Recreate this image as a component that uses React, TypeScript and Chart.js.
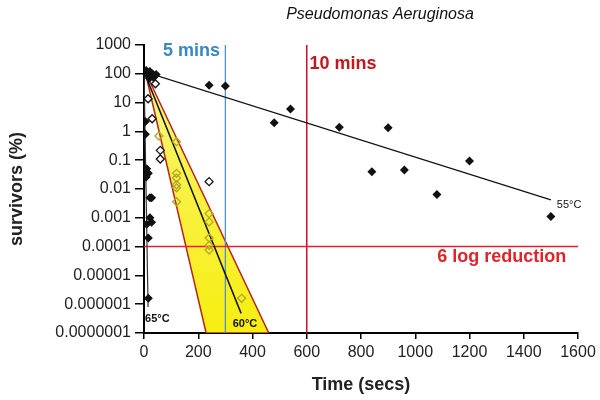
import React, { useEffect, useRef } from "react";
import { Chart, registerables } from "chart.js";

Chart.register(...registerables);

// ---- data ----
const yTickValues = [1e-7, 1e-6, 1e-5, 1e-4, 1e-3, 1e-2, 1e-1, 1, 10, 100, 1000];
const yTickLabels = ["0.0000001", "0.000001", "0.00001", "0.0001", "0.001", "0.01", "0.1", "1", "10", "100", "1000"];
const xTickLabels = ["0", "200", "400", "600", "800", "1000", "1200", "1400", "1600"];

// starting cluster (~100%)
const tStart = [0, 8, 15, 22, 30, 38, 45, 20, 35];
const vStart = [100, 130, 90, 120, 100, 85, 95, 70, 75];

// 55 C survivors
const t55 = [240, 300, 480, 540, 720, 840, 900, 960, 1080, 1200, 1500];
const v55 = [40, 38, 2, 6, 1.4, 0.04, 1.35, 0.046, 0.0065, 0.093, 0.0011];

// 65 C survivors
const t65 = [5, 5, 10, 16, 8, 22, 28, 22, 10, 28, 16, 16];
const v65 = [2.2, 0.8, 0.05, 0.035, 0.026, 0.005, 0.005, 0.001, 0.0006, 0.0007, 0.0002, 0.0000016];

// 60 C survivors (open diamonds outside band / inside band)
const t60out = [42, 15, 30, 60, 60, 240];
const v60out = [45, 13.6, 2.75, 0.22, 0.11, 0.018];
const t60in = [55, 120, 120, 120, 120, 120, 120, 240, 240, 240, 240, 240, 360];
const v60in = [0.69, 0.44, 0.035, 0.024, 0.014, 0.011, 0.0036, 0.0014, 0.00072, 0.0002, 0.00011, 0.000076, 0.0000016];

// fitted lines
const fit55T = [0, 1500];
const fit55V = [120, 0.0042];
const fit60T = [0, 358];
const fit60V = [120, 0.00000048];
const fit65T = [0, 15];
const fit65V = [120, 0.0000008];

// 60 C confidence band
const bandT = [4, 229, 460, 4];
const bandV = [120, 1e-7, 1e-7, 120];

// reference lines
const fiveMins = 300;
const tenMins = 600;
const sixLog = 0.0001;
const yMin = 1e-7;
const yMax = 1000;
const xMin = 0;
const xMax = 1600;

// annotation texts (anchored in data units)
const annTexts = ["5 mins", "10 mins", "6 log reduction", "65°C", "60°C", "55°C"];
const annT = [70, 610, 1081, 4, 327, 1522];
const annV = [620, 219, 0.000044, 0.00000031, 0.0000002, 0.0028];

const FONT = "'Liberation Sans', Arial, Helvetica, sans-serif";

const pts = (t: number[], v: number[]) => t.map((x, i) => ({ x, y: v[i] }));

const annStyles = [
  { font: `bold 18px ${FONT}`, color: "#3a87c2" },
  { font: `bold 18px ${FONT}`, color: "#c4161c" },
  { font: `bold 18px ${FONT}`, color: "#e0242a" },
  { font: `bold 11px ${FONT}`, color: "#111" },
  { font: `bold 11px ${FONT}`, color: "#111" },
  { font: `11px ${FONT}`, color: "#111" },
];

const textPlugin = {
  id: "textAnnotations",
  afterDatasetsDraw(chart: any) {
    const { ctx, scales } = chart;
    const xs = scales.x;
    const ys = scales.y;
    ctx.save();
    ctx.textBaseline = "middle";
    ctx.textAlign = "left";
    annTexts.forEach((txt, i) => {
      ctx.font = annStyles[i].font;
      ctx.fillStyle = annStyles[i].color;
      ctx.fillText(txt, xs.getPixelForValue(annT[i]), ys.getPixelForValue(annV[i]));
    });
    // chart title
    ctx.font = `italic 16px ${FONT}`;
    ctx.fillStyle = "#111";
    ctx.textAlign = "center";
    ctx.fillText("Pseudomonas Aeruginosa", 380, 15);
    ctx.restore();
  },
};

export default function App() {
  const ref = useRef<HTMLCanvasElement>(null);
  useEffect(() => {
    if (!ref.current) return;
    Chart.defaults.font.family = FONT;
    const chart = new Chart(ref.current, {
      type: "scatter",
      data: {
        datasets: [
          {
            label: "band",
            data: pts(bandT, bandV),
            showLine: true,
            fill: "shape",
            borderColor: "#b8261c",
            borderWidth: 1.5,
            pointRadius: 0,
            order: 10,
            backgroundColor: (c: any) => {
              const area = c.chart.chartArea;
              if (!area) return "#f5ee2a";
              const g = c.chart.ctx.createLinearGradient(0, area.top, 0, area.bottom);
              g.addColorStop(0, "#fcf9b0");
              g.addColorStop(0.4, "#f9f250");
              g.addColorStop(1, "#f6ee10");
              return g;
            },
          },
          {
            label: "6log",
            data: [{ x: xMin, y: sixLog }, { x: xMax, y: sixLog }],
            showLine: true,
            borderColor: "#e8202a",
            borderWidth: 1.5,
            pointRadius: 0,
            order: 5,
          },
          {
            label: "5min",
            data: [{ x: fiveMins, y: yMin }, { x: fiveMins, y: yMax }],
            showLine: true,
            borderColor: "#4b93c8",
            borderWidth: 1.3,
            pointRadius: 0,
            order: 5,
          },
          {
            label: "10min",
            data: [{ x: tenMins, y: yMin }, { x: tenMins, y: yMax }],
            showLine: true,
            borderColor: "#c8102e",
            borderWidth: 1.5,
            pointRadius: 0,
            order: 5,
          },
          {
            label: "fit55",
            data: pts(fit55T, fit55V),
            showLine: true,
            borderColor: "#111",
            borderWidth: 1.2,
            pointRadius: 0,
            order: 3,
          },
          {
            label: "fit60",
            data: pts(fit60T, fit60V),
            showLine: true,
            borderColor: "#111",
            borderWidth: 1.5,
            pointRadius: 0,
            order: 3,
          },
          {
            label: "fit65",
            data: pts(fit65T, fit65V),
            showLine: true,
            borderColor: "#333",
            borderWidth: 1.2,
            pointRadius: 0,
            order: 3,
          },
          {
            label: "60 in band",
            data: pts(t60in, v60in),
            pointStyle: "rectRot",
            pointRadius: 4,
            pointBorderWidth: 1.3,
            pointBorderColor: "#b5a628",
            pointBackgroundColor: "rgba(0,0,0,0)",
            order: 2,
          },
          {
            label: "60 out",
            data: pts(t60out, v60out),
            pointStyle: "rectRot",
            pointRadius: 4,
            pointBorderWidth: 1.3,
            pointBorderColor: "#111",
            pointBackgroundColor: "#fff",
            order: 2,
          },
          {
            label: "65",
            data: pts(t65, v65),
            pointStyle: "rectRot",
            pointRadius: 4.5,
            pointBorderWidth: 0,
            pointBackgroundColor: "#111",
            order: 1,
          },
          {
            label: "55",
            data: pts(t55, v55),
            pointStyle: "rectRot",
            pointRadius: 4.5,
            pointBorderWidth: 0,
            pointBackgroundColor: "#111",
            order: 1,
          },
          {
            label: "start",
            data: pts(tStart, vStart),
            pointStyle: "rectRot",
            pointRadius: 4.5,
            pointBorderWidth: 0,
            pointBackgroundColor: "#111",
            order: 1,
          },
        ] as any,
      },
      options: {
        animation: false,
        responsive: true,
        maintainAspectRatio: false,
        layout: { padding: { top: 45, right: 22, left: 0, bottom: 0 } },
        plugins: {
          legend: { display: false },
          tooltip: { enabled: false },
          title: { display: false },
        },
        scales: {
          x: {
            type: "linear",
            min: xMin,
            max: xMax,
            afterFit: (s: any) => {
              s.height = 67;
            },
            ticks: {
              stepSize: 200,
              color: "#222",
              padding: 4,
              maxRotation: 0,
              autoSkip: false,
              font: { size: 16 },
              callback: (_v: any, i: number) => xTickLabels[i],
            },
            grid: {
              drawOnChartArea: false,
              drawTicks: true,
              tickLength: 6,
              color: "#000",
              lineWidth: 1.5,
            },
            border: { color: "#000", width: 2 },
            title: {
              display: true,
              text: "Time (secs)",
              color: "#222",
              font: { size: 18, weight: "bold" },
              padding: { top: 0, bottom: 4 },
            },
          },
          y: {
            type: "logarithmic",
            min: yMin,
            max: yMax,
            afterFit: (s: any) => {
              s.width = 144;
            },
            afterBuildTicks: (s: any) => {
              s.ticks = yTickValues.map((v) => ({ value: v }));
            },
            ticks: {
              color: "#222",
              padding: 4,
              autoSkip: false,
              font: { size: 16 },
              callback: (_v: any, i: number) => yTickLabels[i],
            },
            grid: {
              drawOnChartArea: false,
              drawTicks: true,
              tickLength: 9,
              color: "#000",
              lineWidth: 1.5,
            },
            border: { color: "#000", width: 2 },
            title: {
              display: true,
              text: "survivors (%)",
              color: "#222",
              font: { size: 18, weight: "bold" },
              padding: { top: 6, bottom: 0 },
            },
          },
        } as any,
      },
      plugins: [textPlugin],
    });
    return () => chart.destroy();
  }, []);
  return (
    <div style={{ position: "fixed", left: 0, top: 0, width: 600, height: 400, background: "#fff" }}>
      <canvas ref={ref} />
    </div>
  );
}
